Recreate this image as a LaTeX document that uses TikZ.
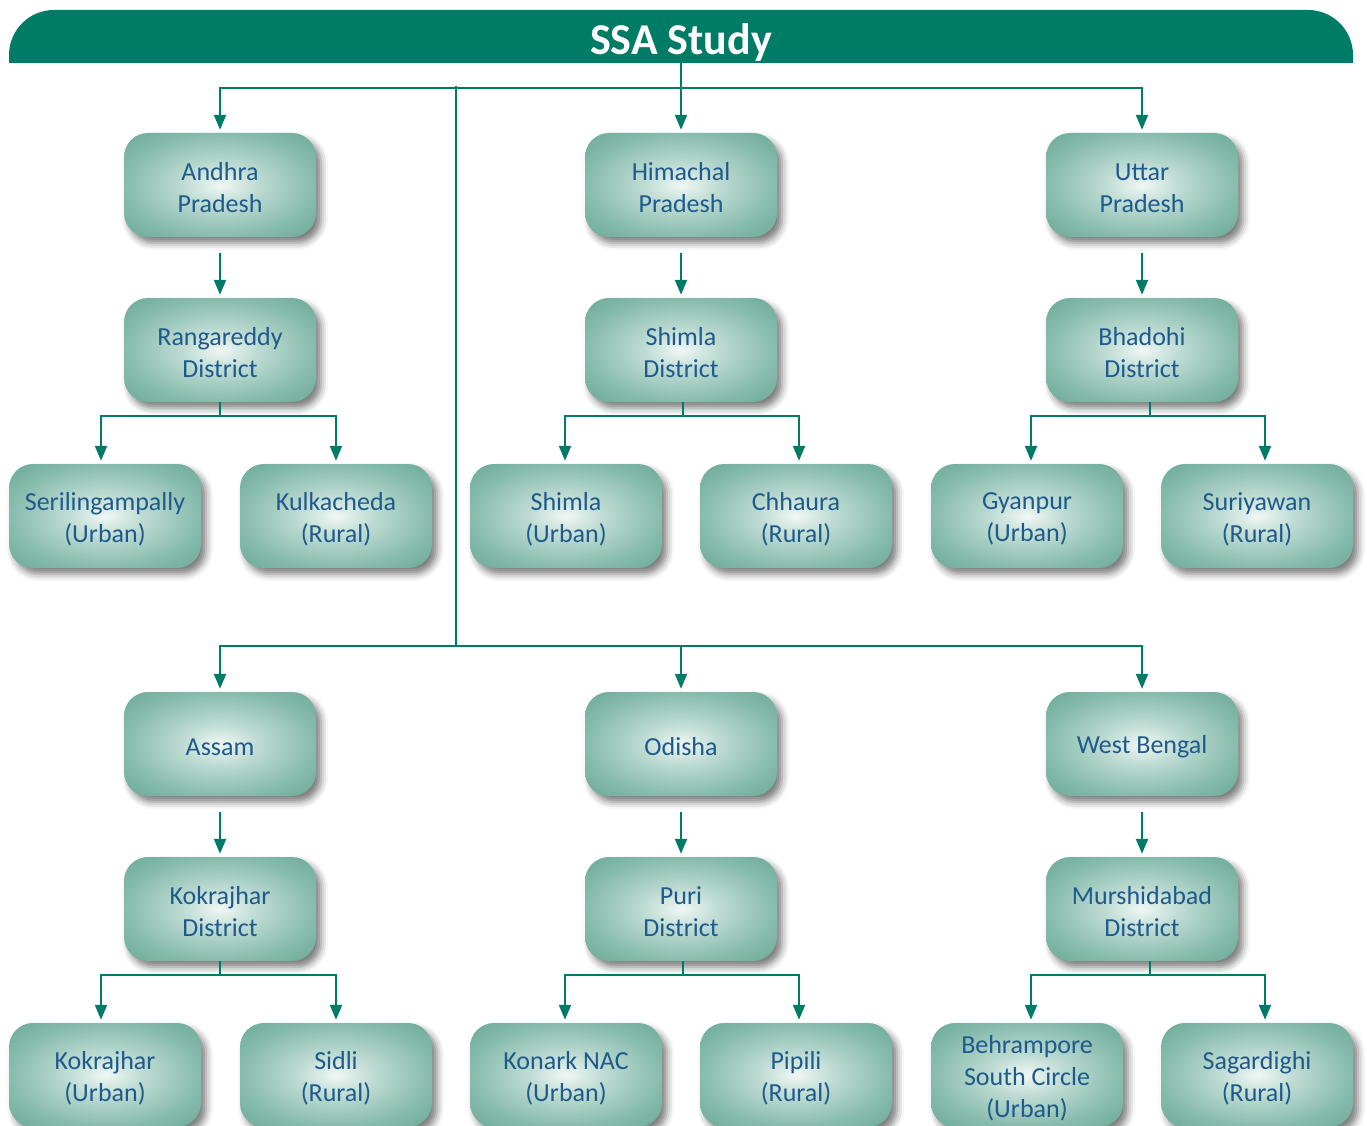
\documentclass[tikz,border=0pt]{standalone}
\usepackage{fontspec}
\setmainfont{Carlito}
\usetikzlibrary{arrows.meta,shadows.blur,calc}
\definecolor{teal1}{HTML}{007C66}
\definecolor{txt}{HTML}{1F5A8C}
\definecolor{bin}{HTML}{F0F7F5}
\definecolor{bmid}{HTML}{BDDBD2}
\definecolor{bedge}{HTML}{86BBAC}
\definecolor{bcorner}{HTML}{6AA996}
\pgfdeclareradialshading{boxshade}{\pgfpoint{0bp}{0bp}}{color(0bp)=(bin); color(10bp)=(bmid); color(25bp)=(bedge); color(36bp)=(bcorner); color(50bp)=(bcorner)}
\tikzset{
  box/.style={rounded corners=24pt, minimum width=192pt, minimum height=104pt, inner sep=0pt,
    shade, shading=boxshade,
    blur shadow={shadow xshift=5pt, shadow yshift=-6pt, shadow blur radius=7pt, shadow opacity=52}},
  lbl/.style={align=center, text=txt, font=\fontsize{26}{32}\selectfont, inner sep=0pt},
  ln/.style={draw=teal1, line width=2.2pt},
  arr/.style={ln, -{Triangle[length=15pt,width=12pt]}, shorten >=3pt},
}
\newcommand\boxnode[3]{\node[box] (#1) at (#2) {};\node[lbl] (#1t) at ($(#1.center)+(0,3)$) {#3};}
\begin{document}
\begin{tikzpicture}[x=1pt,y=-1pt]
\useasboundingbox (0,0) rectangle (1367,1126);
% header band
\begin{scope}
  \clip (0,0) rectangle (1367,63);
  \fill[teal1, rounded corners=45pt] (9,10) rectangle (1353,116);
\end{scope}
\node[font=\fontsize{44}{50}\selectfont\bfseries, text=white, anchor=base, inner sep=0pt] (title) at (681,55) {SSA Study};
\coordinate (hb) at (681,63);
\coordinate (ht) at (681,88);
\coordinate (t1) at (456,86);
\coordinate (t2) at (456,646);

% upper half
\boxnode{s1}{220,185}{Andhra\\Pradesh}
\boxnode{s2}{681,185}{Himachal\\Pradesh}
\boxnode{s3}{1142,185}{Uttar\\Pradesh}
\boxnode{d1}{220,350}{Rangareddy\\District}
\boxnode{d2}{681,350}{Shimla\\District}
\boxnode{d3}{1142,350}{Bhadohi\\District}
\boxnode{l1}{105,516}{Serilingampally\\(Urban)}
\boxnode{l2}{336,516}{Kulkacheda\\(Rural)}
\boxnode{l3}{566,516}{Shimla\\(Urban)}
\boxnode{l4}{796,516}{Chhaura\\(Rural)}
\boxnode{l5}{1027,516}{Gyanpur\\(Urban)}
\boxnode{l6}{1257,516}{Suriyawan\\(Rural)}

% lower half
\boxnode{s4}{220,744}{Assam}
\boxnode{s5}{681,744}{Odisha}
\boxnode{s6}{1142,744}{West Bengal}
\boxnode{d4}{220,909}{Kokrajhar\\District}
\boxnode{d5}{681,909}{Puri\\District}
\boxnode{d6}{1142,909}{Murshidabad\\District}
\boxnode{l7}{105,1075}{Kokrajhar\\(Urban)}
\boxnode{l8}{336,1075}{Sidli\\(Rural)}
\boxnode{l9}{566,1075}{Konark NAC\\(Urban)}
\boxnode{l10}{796,1075}{Pipili\\(Rural)}
\boxnode{l11}{1027,1075}{Behrampore\\South Circle\\(Urban)}
\boxnode{l12}{1257,1075}{Sagardighi\\(Rural)}

% connectors from header
\draw[arr] (hb) -- (s2.north);
\draw[arr] (ht) -| (s1.north);
\draw[arr] (ht) -| (s3.north);
\draw[ln] (t1) -- (t2);
\draw[arr] (t2) -| (s4.north);
\draw[arr] (t2) -| (s5.north);
\draw[arr] (t2) -| (s6.north);

% state -> district
\foreach \s/\d in {s1/d1,s2/d2,s3/d3,s4/d4,s5/d5,s6/d6}{
  \draw[arr] ($(\s.south)+(0,16)$) -- (\d.north);
}

% district -> leaves
\foreach \d/\dx/\a/\ax/\b/\bx in {d1/0/l1/-4/l2/0, d2/2/l3/-1/l4/3, d3/8/l5/4/l6/8,
                                   d4/0/l7/-4/l8/0, d5/2/l9/-1/l10/3, d6/8/l11/4/l12/8}{
  \draw[ln] ($(\d.south)+(\dx,0)$) -- ++(0,14) coordinate (j);
  \draw[arr] (j) -| ($(\a.north)+(\ax,0)$);
  \draw[arr] (j) -| ($(\b.north)+(\bx,0)$);
}
\end{tikzpicture}
\end{document}
